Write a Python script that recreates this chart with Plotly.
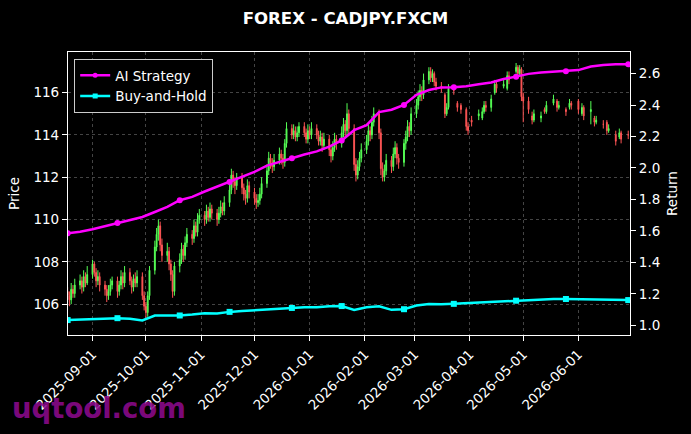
import pandas as pd
import plotly.graph_objects as go

# ---------------- data ----------------
first_day = "2025-08-18"
last_day = "2026-06-29"
first_open = 106.6

close_px = [
    106.4, 106.2, 106.7, 106.5, 106.9,
    107.1, 106.8, 107.3, 107.0, 107.4,
    107.9, 107.5, 107.1, 107.3, 106.9,
    106.7, 106.4, 106.6, 106.9, 107.1,
    106.6, 106.9, 107.3, 107.0, 107.5,
    107.1, 106.8, 107.2, 107.0, 107.3,
    106.4, 105.9, 105.6, 106.4, 107.6,
    108.7, 109.3, 109.7, 108.8, 108.3,
    108.5, 107.9, 107.4, 106.6, 107.8,
    108.1, 108.6, 108.3, 108.9, 109.3,
    109.1, 109.7, 109.4, 110.0, 110.2,
    110.0, 110.4, 110.1, 110.5, 110.3,
    110.0, 110.3, 110.6, 110.4, 110.8,
    111.4, 112.1, 111.8, 111.6, 112.0,
    111.5, 111.2, 111.0, 111.6, 111.3,
    111.0, 110.8, 110.9, 111.2, 111.7,
    112.3, 112.9, 112.7, 112.5, 112.8,
    113.1, 112.9, 112.7, 113.6, 114.3,
    114.0, 114.2, 113.9, 114.1, 114.4,
    114.1, 113.8, 114.2, 114.0, 114.3,
    114.0, 113.7, 113.9, 113.5, 113.8,
    113.3, 113.0, 113.4, 113.8, 113.6,
    114.1, 114.5, 114.2, 115.0, 114.3,
    112.6, 112.1, 112.5, 112.9, 113.3,
    113.7, 114.2, 114.0, 114.6, 115.0,
    114.1, 112.4, 112.0, 112.3, 112.8,
    112.5, 113.1, 113.4, 112.9, 112.7,
    113.6, 113.9, 114.4, 114.2, 115.0,
    115.4, 115.8, 116.1, 115.9, 116.6,
    117.0, 116.7, 116.9, 116.5, 116.3,
    116.2, 115.9, 115.0, 115.3, 116.2,
    116.1, 115.5, 115.3, 115.4, 115.2,
    114.4, 114.2, 114.7, 114.6, 114.9,
    115.0, 114.8, 115.1, 115.4, 115.3,
    115.7, 116.0, 116.4, 116.2, 116.3,
    116.4, 116.2, 116.8, 116.6, 117.0,
    117.2, 116.9, 117.1, 115.8, 115.6,
    115.2, 114.9, 114.7, 115.0, 114.8,
    114.9, 115.2, 115.1, 115.4, 115.5,
    115.7, 115.6, 115.3, 115.4, 115.2,
    115.1, 115.3, 115.5, 115.4, 115.6,
    115.2, 115.0, 115.3, 114.9, 115.1,
    115.2, 114.8, 114.6, 114.7, 114.5,
    114.5, 114.6, 114.2, 114.3, 114.0,
    113.7, 113.9, 114.1, 113.8, 114.0,
    114.0,
]

high_px = [
    106.8, 106.6, 107.0, 106.9, 107.2,
    107.4, 107.3, 107.6, 107.5, 107.8,
    108.1, 108.0, 107.7, 107.6, 107.5,
    107.1, 106.9, 106.9, 107.2, 107.3,
    107.3, 107.1, 107.6, 107.5, 107.8,
    107.7, 107.3, 107.4, 107.5, 107.6,
    107.5, 106.6, 106.1, 106.6, 107.8,
    109.0, 109.6, 110.0, 109.9, 109.1,
    108.9, 108.7, 108.1, 107.6, 108.0,
    108.4, 108.9, 108.8, 109.2, 109.6,
    109.5, 110.0, 109.9, 110.3, 110.5,
    110.4, 110.7, 110.6, 110.8, 110.7,
    110.5, 110.6, 110.9, 110.8, 111.1,
    111.7, 112.4, 112.3, 112.0, 112.2,
    112.2, 111.7, 111.4, 111.9, 111.8,
    111.5, 111.2, 111.2, 111.5, 112.0,
    112.6, 113.2, 113.1, 112.9, 113.1,
    113.4, 113.3, 113.1, 113.8, 114.6,
    114.5, 114.5, 114.4, 114.4, 114.6,
    114.6, 114.3, 114.5, 114.4, 114.6,
    114.5, 114.2, 114.2, 114.1, 114.1,
    114.0, 113.5, 113.7, 114.1, 114.0,
    114.4, 114.8, 114.7, 115.5, 115.2,
    114.5, 112.9, 112.8, 113.2, 113.6,
    114.0, 114.5, 114.4, 114.9, 115.3,
    115.2, 114.3, 112.7, 112.6, 113.1,
    113.0, 113.4, 113.7, 113.6, 113.1,
    113.8, 114.2, 114.7, 114.6, 115.3,
    115.7, 116.1, 116.4, 116.3, 116.9,
    117.2, 117.2, 117.1, 117.0, 116.7,
    116.5, 116.4, 116.0, 115.5, 116.4,
    116.3, 116.2, 115.6, 115.6, 115.5,
    115.3, 114.6, 114.9, 114.9, 115.1,
    115.2, 115.1, 115.3, 115.6, 115.6,
    115.9, 116.2, 116.6, 116.5, 116.5,
    116.6, 116.5, 117.0, 117.0, 117.2,
    117.4, 117.3, 117.3, 117.2, 116.0,
    115.8, 115.3, 115.1, 115.2, 115.1,
    115.1, 115.4, 115.3, 115.6, 115.7,
    115.9, 115.8, 115.7, 115.6, 115.5,
    115.3, 115.5, 115.7, 115.6, 115.8,
    115.7, 115.3, 115.5, 115.4, 115.3,
    115.6, 115.4, 114.9, 114.9, 114.8,
    114.7, 114.8, 114.7, 114.5, 114.4,
    114.2, 114.1, 114.3, 114.2, 114.2,
    114.2,
]

low_px = [
    106.1, 105.9, 106.0, 106.3, 106.3,
    106.7, 106.5, 106.6, 106.8, 106.9,
    107.2, 107.3, 106.8, 106.9, 106.6,
    106.4, 106.1, 106.2, 106.4, 106.7,
    106.3, 106.4, 106.7, 106.7, 106.8,
    106.9, 106.5, 106.6, 106.8, 106.8,
    106.2, 105.7, 105.3, 105.4, 106.2,
    107.4, 108.5, 109.0, 108.5, 108.0,
    108.0, 107.6, 107.1, 106.3, 106.4,
    107.5, 107.9, 108.0, 108.1, 108.7,
    108.8, 108.9, 109.2, 109.2, 109.8,
    109.7, 109.8, 109.9, 109.9, 110.0,
    109.7, 109.8, 110.1, 110.2, 110.2,
    110.6, 111.2, 111.5, 111.2, 111.4,
    111.2, 110.9, 110.7, 110.8, 111.0,
    110.7, 110.5, 110.6, 110.7, 111.0,
    111.5, 112.1, 112.4, 112.2, 112.3,
    112.6, 112.6, 112.4, 112.5, 113.4,
    113.8, 113.8, 113.7, 113.7, 113.9,
    113.9, 113.6, 113.6, 113.8, 113.8,
    113.8, 113.5, 113.5, 113.2, 113.3,
    113.0, 112.7, 112.8, 113.2, 113.3,
    113.4, 113.9, 113.9, 114.0, 114.0,
    112.3, 111.8, 111.9, 112.3, 112.7,
    113.1, 113.5, 113.7, 113.8, 114.4,
    113.8, 112.1, 111.8, 111.8, 112.1,
    112.2, 112.3, 112.9, 112.6, 112.4,
    112.5, 113.3, 113.7, 113.9, 114.0,
    114.8, 115.2, 115.6, 115.6, 115.7,
    116.4, 116.5, 116.5, 116.3, 116.1,
    116.0, 115.7, 114.8, 114.9, 115.2,
    115.9, 115.3, 115.1, 115.1, 115.0,
    114.2, 114.0, 114.1, 114.4, 114.5,
    114.7, 114.6, 114.7, 115.0, 115.1,
    115.1, 115.5, 115.9, 116.0, 116.1,
    116.2, 116.0, 116.1, 116.4, 116.5,
    116.9, 116.7, 116.8, 115.6, 114.6,
    115.0, 114.7, 114.5, 114.6, 114.6,
    114.6, 114.8, 115.0, 115.0, 115.3,
    115.4, 115.4, 115.1, 115.2, 115.0,
    114.9, 115.0, 115.2, 115.2, 115.3,
    115.0, 114.8, 114.9, 114.7, 114.8,
    114.5, 114.5, 114.4, 114.5, 114.3,
    114.3, 114.4, 114.0, 114.1, 113.6,
    113.5, 113.6, 113.8, 113.6, 113.7,
    113.8,
]

# days without a drawn candle in the reference
no_data_days = [
    "2026-03-17", "2026-03-24", "2026-03-26", "2026-04-01", "2026-04-03",
    "2026-04-07", "2026-04-14", "2026-04-17", "2026-04-21", "2026-04-24",
    "2026-05-05", "2026-05-08", "2026-05-12", "2026-05-15", "2026-05-19",
    "2026-05-22", "2026-05-26", "2026-05-29", "2026-06-02", "2026-06-05",
    "2026-06-09", "2026-06-12", "2026-06-16", "2026-06-19", "2026-06-23",
    "2026-06-26",
]

# weekly cumulative returns (one value per week, starting on first_day)
ai_return = [
    1.585, 1.595, 1.610, 1.630, 1.650, 1.668, 1.688, 1.720, 1.752, 1.795,
    1.816, 1.850, 1.880, 1.910, 1.945, 1.975, 2.015, 2.040, 2.062, 2.085,
    2.105, 2.135, 2.175, 2.240, 2.272, 2.355, 2.370, 2.400, 2.465, 2.495,
    2.512, 2.513, 2.520, 2.532, 2.543, 2.565, 2.580, 2.598, 2.606, 2.610,
    2.614, 2.622, 2.645, 2.655, 2.659, 2.659,
]
bh_return = [
    1.033, 1.035, 1.040, 1.042, 1.045, 1.042, 1.030, 1.062, 1.060, 1.062,
    1.068, 1.076, 1.074, 1.085, 1.090, 1.096, 1.102, 1.107, 1.110, 1.115,
    1.114, 1.120, 1.122, 1.097, 1.115, 1.120, 1.098, 1.102, 1.125, 1.135,
    1.133, 1.136, 1.140, 1.143, 1.146, 1.150, 1.156, 1.160, 1.165, 1.167,
    1.167, 1.166, 1.162, 1.160, 1.160, 1.160,
]
marker_weeks = [0, 4, 9, 13, 18, 22, 27, 31, 36, 40, 45]

# ---------------- build ----------------
dates = pd.bdate_range(first_day, last_day)
open_px = [first_open] + close_px[:-1]
df = pd.DataFrame({"open": open_px, "high": high_px, "low": low_px,
                   "close": close_px}, index=dates)
missing = pd.to_datetime(no_data_days)
df.loc[df.index.isin(missing), :] = None

weeks = pd.date_range(first_day, periods=len(ai_return), freq="7D")
mk_x = [weeks[i] for i in marker_weeks]
mk_ai = [ai_return[i] for i in marker_weeks]
mk_bh = [bh_return[i] for i in marker_weeks]

MAG = "#ff00ff"
CYA = "#00ffff"
GREEN = "#55ff55"
RED = "#ff5555"

fig = go.Figure()
fig.add_trace(go.Candlestick(
    x=df.index, open=df["open"], high=df["high"], low=df["low"], close=df["close"],
    increasing=dict(line=dict(color=GREEN, width=1), fillcolor=GREEN),
    decreasing=dict(line=dict(color=RED, width=1), fillcolor=RED),
    whiskerwidth=0, showlegend=False, yaxis="y", hoverinfo="skip"))

# lines
fig.add_trace(go.Scatter(x=weeks, y=ai_return, mode="lines", yaxis="y2",
                         line=dict(color=MAG, width=2.5), showlegend=False))
fig.add_trace(go.Scatter(x=weeks, y=bh_return, mode="lines", yaxis="y2",
                         line=dict(color=CYA, width=2.5), showlegend=False))
fig.add_trace(go.Scatter(x=mk_x, y=mk_ai, mode="markers", yaxis="y2",
                         marker=dict(color=MAG, size=6, symbol="circle"),
                         showlegend=False))
fig.add_trace(go.Scatter(x=mk_x, y=mk_bh, mode="markers", yaxis="y2",
                         marker=dict(color=CYA, size=6, symbol="square"),
                         showlegend=False))
# legend entries
fig.add_trace(go.Scatter(x=[None], y=[None], mode="lines+markers", yaxis="y2",
                         name="AI Strategy", line=dict(color=MAG, width=2.5),
                         marker=dict(color=MAG, size=5, symbol="circle")))
fig.add_trace(go.Scatter(x=[None], y=[None], mode="lines+markers", yaxis="y2",
                         name="Buy-and-Hold", line=dict(color=CYA, width=2.5),
                         marker=dict(color=CYA, size=5, symbol="square")))

GRID = "#444444"
GDASH = "3px,3px"
fig.update_layout(
    width=691, height=434,
    paper_bgcolor="black", plot_bgcolor="black",
    margin=dict(l=68, r=61, t=52, b=99),
    font=dict(family="DejaVu Sans", color="white", size=13.9),
    title=dict(text="<b>FOREX - CADJPY.FXCM</b>", x=0.5, xref="container",
               xanchor="center", y=1 - 18 / 434, yref="container",
               yanchor="middle", font=dict(size=16.6, color="white")),
    xaxis=dict(type="date", range=["2025-08-18 05:00", "2026-06-30 00:00"],
               rangeslider=dict(visible=False),
               tickformat="%Y-%m-%d", dtick="M1", tick0="2025-09-01",
               tickangle=-45, ticks="outside", ticklen=5, tickcolor="white",
               tickfont=dict(size=13.5),
               showline=True, linecolor="white", linewidth=1.2, mirror=True,
               showgrid=True, gridcolor=GRID, griddash=GDASH, gridwidth=0.6,
               zeroline=False),
    yaxis=dict(range=[104.54, 117.92], dtick=2, tick0=106,
               ticks="outside", ticklen=5, tickcolor="white",
               tickfont=dict(size=13.5),
               showline=True, linecolor="white", linewidth=1.2, mirror=True,
               showgrid=True, gridcolor=GRID, griddash=GDASH, gridwidth=0.6,
               zeroline=False,
               title=dict(text="Price", standoff=10, font=dict(size=13.5))),
    yaxis2=dict(overlaying="y", side="right", range=[0.938, 2.737],
                dtick=0.2, tick0=1.0, tickformat=".1f",
                ticks="outside", ticklen=5, tickcolor="white",
                tickfont=dict(size=13.5),
                showline=True, linecolor="white", linewidth=1.2,
                showgrid=False, zeroline=False,
                title=dict(text="Return", standoff=8, font=dict(size=13.5))),
    legend=dict(x=0.011, y=0.975, xanchor="left", yanchor="top",
                bgcolor="black", bordercolor="#cccccc", borderwidth=1,
                font=dict(size=13.5, color="white"), tracegroupgap=0),
    showlegend=True,
    annotations=[dict(text="<b>uqtool.com</b>", xref="paper", yref="paper",
                      x=(10 - 68) / 562, y=(335 - 408) / 283,
                      xanchor="left", yanchor="middle", showarrow=False,
                      font=dict(size=27.5, color="rgba(140,10,140,0.9)",
                                family="DejaVu Sans"))],
)

fig.write_html("out.html", config={"displayModeBar": False})
